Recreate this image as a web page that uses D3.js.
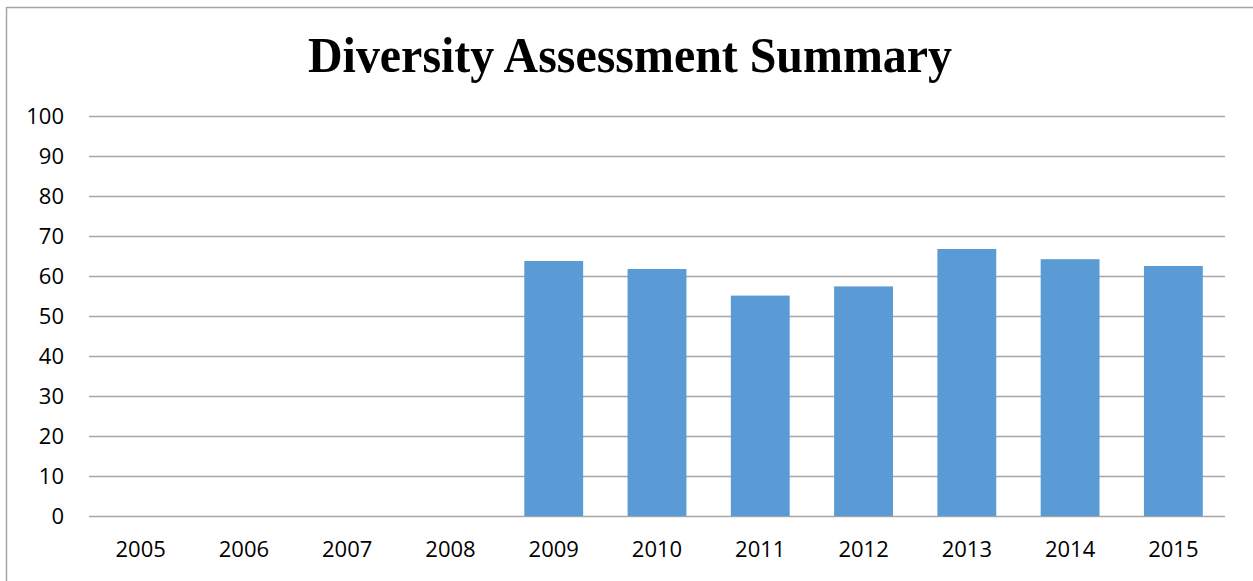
<!DOCTYPE html>
<html>
<head>
<meta charset="utf-8">
<script src="https://cdn.jsdelivr.net/npm/d3@7"></script>
<style>
  html, body { margin: 0; padding: 0; background: #fff; }
  svg { display: block; }
</style>
</head>
<body>
<svg id="chart" width="1253" height="581"></svg>
<script>
// Survey years and the assessment score for each (no assessment before 2009)
const years = ["2005", "2006", "2007", "2008", "2009", "2010", "2011", "2012", "2013", "2014", "2015"];
const scores = [null, null, null, null, 63.75, 61.75, 55.1, 57.4, 66.75, 64.2, 62.5];
const yTicks = [0, 10, 20, 30, 40, 50, 60, 70, 80, 90, 100];
const titleText = "Diversity Assessment Summary";

const data = years.map((y, i) => ({ year: y, value: scores[i] }));

const svg = d3.select("#chart");
const W = 1253, H = 581;
const plot = { left: 89, right: 1225, top: 116, bottom: 516 };
const labelFont = "'Open Sans', 'Noto Sans', sans-serif";

// chart frame (top and left edges)
svg.append("path")
  .attr("d", `M6.5,${H} V7.5 H${W}`)
  .attr("fill", "none")
  .attr("stroke", "#a6a6a6")
  .attr("stroke-width", 1.5);

const x = d3.scaleBand()
  .domain(years)
  .range([plot.left, plot.right])
  .paddingInner(0.43)
  .paddingOuter(0.215);

const y = d3.scaleLinear()
  .domain([0, 100])
  .range([plot.bottom, plot.top]);

// horizontal gridlines
svg.append("g")
  .selectAll("line")
  .data(yTicks)
  .join("line")
  .attr("x1", plot.left)
  .attr("x2", plot.right)
  .attr("y1", d => Math.round(y(d)) + 0.5)
  .attr("y2", d => Math.round(y(d)) + 0.5)
  .attr("stroke", "#a6a6a6")
  .attr("stroke-width", 1.3);

// bars
svg.append("g")
  .selectAll("rect")
  .data(data.filter(d => d.value != null))
  .join("rect")
  .attr("x", d => x(d.year))
  .attr("width", x.bandwidth())
  .attr("y", d => y(d.value))
  .attr("height", d => y(0) - y(d.value))
  .attr("fill", "#5b9bd5");

// y axis labels
const yAxis = d3.axisLeft(y).tickValues(yTicks).tickSize(0).tickPadding(25);
const gy = svg.append("g")
  .attr("transform", `translate(${plot.left},0)`)
  .call(yAxis);
gy.select(".domain").remove();
gy.selectAll("text")
  .attr("font-family", labelFont)
  .attr("font-size", 22)
  .attr("fill", "#000");

// x axis labels
const xAxis = d3.axisBottom(x).tickSize(0).tickPadding(25);
const gx = svg.append("g")
  .attr("transform", `translate(0,${plot.bottom})`)
  .call(xAxis);
gx.select(".domain").remove();
gx.selectAll("text")
  .attr("font-family", labelFont)
  .attr("font-size", 22)
  .attr("fill", "#000");

// title
svg.append("text")
  .attr("x", 630)
  .attr("y", 72)
  .attr("text-anchor", "middle")
  .attr("font-family", "'Liberation Serif', 'Times New Roman', serif")
  .attr("font-weight", "bold")
  .attr("font-size", 51)
  .attr("textLength", 644)
  .attr("lengthAdjust", "spacingAndGlyphs")
  .attr("fill", "#000")
  .text(titleText);
</script>
</body>
</html>
